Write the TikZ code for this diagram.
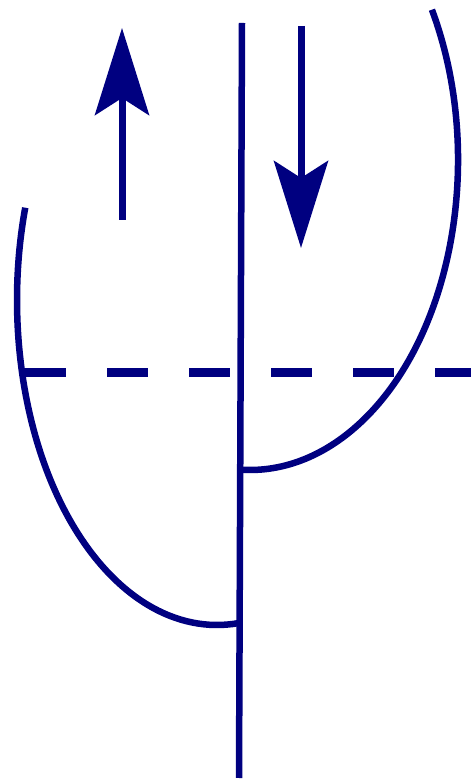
\documentclass[tikz,border=0pt]{standalone}
\usetikzlibrary{arrows.meta}
\definecolor{navyink}{RGB}{0,0,128}
\begin{document}
\begin{tikzpicture}[x=1pt,y=1pt,
  ink/.style={draw=navyink,line width=6.5pt},
  shaft/.style={draw=navyink,line width=7pt,
    -{Stealth[length=87pt,width=54pt,inset=17pt,fill=navyink]}},
  dashline/.style={draw=navyink,line width=9pt,dash pattern=on 41pt off 41pt}]
\useasboundingbox (0,0) rectangle (471,782);
% named points (y measured upward: Y = 782 - y_image)
\coordinate (vtop) at (242,759);
\coordinate (vbot) at (239,4);
\coordinate (upstart) at (122,562);
\coordinate (uptip) at (122,754);
\coordinate (dnstart) at (301,756);
\coordinate (dntip) at (301,534);
\coordinate (dashL) at (25,409);
\coordinate (dashR) at (471,409);
\coordinate (lcurve) at ({217+200*cos(163.5)},{482+325*sin(163.5)});
\coordinate (rcurve) at ({250+208*cos(29)},{622+310*sin(29)});
% axis
\draw[ink] (vtop) -- (vbot);
% arrows
\draw[shaft] (upstart) -- (uptip);
\draw[shaft] (dnstart) -- (dntip);
% dashed level
\draw[dashline] (dashL) -- (dashR);
% curves
\draw[ink] (lcurve) arc[start angle=163.5,end angle=276,x radius=200,y radius=325];
\draw[ink] (rcurve) arc[start angle=29,end angle=-92,x radius=208,y radius=310];
\end{tikzpicture}
\end{document}
